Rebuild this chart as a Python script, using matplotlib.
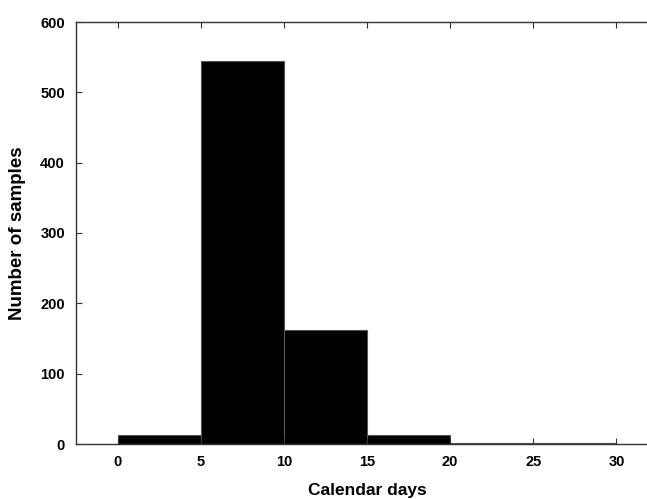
import matplotlib
matplotlib.use('Agg')
import matplotlib.pyplot as plt

# --- Data (histogram bins, 5-day width) ---
bin_starts = [0, 5, 10, 15, 20, 25]
counts = [13, 544, 162, 13, 1, 1]
bin_width = 5

plt.rcParams['font.family'] = ['Liberation Sans', 'DejaVu Sans']

fig = plt.figure(figsize=(6.47, 4.99), dpi=100)
# axes runs past the right edge, as in the (cropped) original
ax = fig.add_axes([76/647, 55/499, 582/647, 422/499])

ax.bar(bin_starts, counts, width=bin_width, align='edge',
       color='black', edgecolor='#555555', linewidth=0.8)

ax.set_xlim(-2.5, 32.5)
ax.set_ylim(0, 600)
ax.set_xticks(range(0, 31, 5))
ax.set_yticks(range(0, 601, 100))

ax.tick_params(direction='in', length=4, width=0.8, top=True, right=True,
               labelsize=10.5, colors='#333333', labelcolor='black')
ax.tick_params(axis='y', pad=8)
ax.tick_params(axis='x', pad=8)
for lbl in ax.get_xticklabels() + ax.get_yticklabels():
    lbl.set_fontweight('bold')
for s in ax.spines.values():
    s.set_color('#333333')
    s.set_linewidth(1.0)

ax.set_xlabel('Calendar days', fontsize=12.5, fontweight='bold', labelpad=10)
ax.set_ylabel('Number of samples', fontsize=13.5, fontweight='bold', labelpad=10)

fig.savefig('out.png', dpi=100, facecolor='white')
plt.close(fig)
